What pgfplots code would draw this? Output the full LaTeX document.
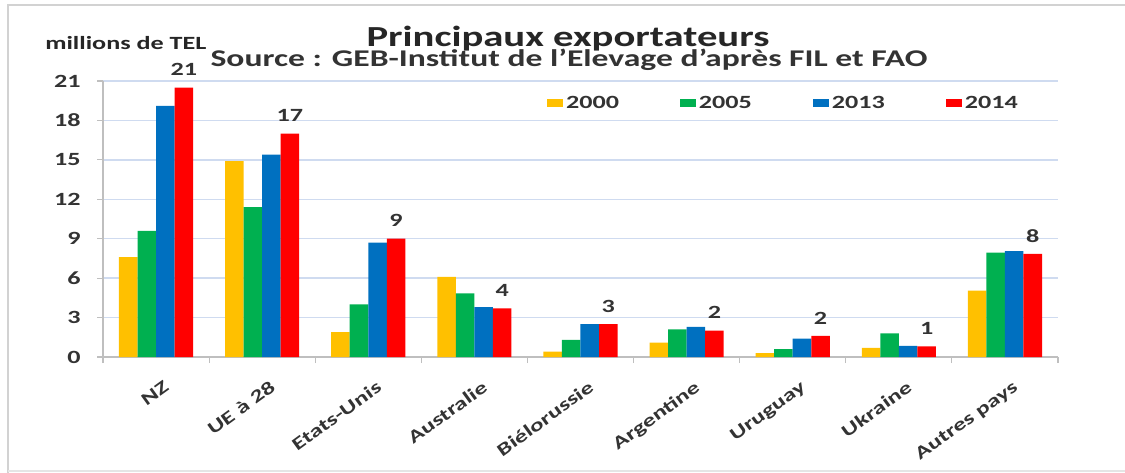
\documentclass[border=0pt]{standalone}
\usepackage{fontspec}
\setmainfont{Carlito}[FakeStretch=1.4]
\usepackage{pgfplots}
\usepackage{pgfplotstable}
\pgfplotsset{compat=1.18}
\definecolor{cY}{HTML}{FFC000}
\definecolor{cG}{HTML}{00B050}
\definecolor{cB}{HTML}{0070C0}
\definecolor{cR}{HTML}{FF0000}
\definecolor{gridc}{HTML}{CFDBF0}
\definecolor{axc}{HTML}{BFBFBF}
\definecolor{txt}{HTML}{333333}
\pgfplotstableread{
x y2000 y2005 y2013 y2014 lab
0 7.6 9.6 19.1 20.5 21
1 14.9 11.4 15.4 17.0 17
2 1.9 4.0 8.7 9.0 9
3 6.1 4.85 3.8 3.7 4
4 0.4 1.3 2.5 2.5 3
5 1.1 2.1 2.3 2.0 2
6 0.3 0.6 1.4 1.6 2
7 0.7 1.8 0.85 0.8 1
8 5.05 7.95 8.05 7.85 8
}\datatable
\begin{document}
\begin{tikzpicture}
\begin{scope}[x=0.75pt,y=0.75pt]
\path[use as bounding box] (0,0) rectangle (1125,472);
\draw[axc!70,line width=1.5pt] (8,-5) -- (8,467) -- (1135,467);
\draw[axc!40,line width=0.8pt] (8,1) -- (1135,1);
\node[anchor=base, font=\fontsize{21.8}{25}\selectfont\bfseries, text=black!85] at (568,425) {Principaux exportateurs};
\node[anchor=base, font=\fontsize{18}{21}\selectfont\bfseries, text=black!80] at (569,405) {Source : GEB-Institut de l'Elevage d'après FIL et FAO};
\node[anchor=base west, inner sep=0pt, font=\fontsize{14}{16}\selectfont\bfseries, text=black!85] at (45,422) {millions de TEL};
\end{scope}
\begin{axis}[
  at={(77.25pt,86.25pt)}, anchor=south west,
  scale only axis, width=716.25pt, height=207pt,
  ybar=0pt, bar width=13.9pt,
  xmin=-0.5, xmax=8.5, ymin=0, ymax=21,
  xtick={0,...,8},
  xticklabels={NZ,UE à 28,Etats-Unis,Australie,Biélorussie,Argentine,Uruguay,Ukraine,Autres pays},
  minor xtick={-0.5,0.5,...,8.5},
  ytick={0,3,...,21},
  axis lines*=left,
  axis line style={axc, line width=1pt},
  major x tick style={draw=none},
  minor x tick style={axc, line width=0.8pt},
  minor tick length=4.5pt,
  y tick style={axc, line width=0.8pt},
  major tick length=4.5pt,
  tick align=outside,
  ymajorgrids, grid style={gridc, line width=1pt},
  /pgf/number format/assume math mode=true,
  ticklabel style={font=\fontsize{14}{16}\selectfont\bfseries, text=txt},
  yticklabel style={inner sep=0pt, xshift=-12pt},
  xticklabel style={font=\fontsize{13.5}{15}\selectfont\bfseries, rotate=36, anchor=north east, inner sep=0pt, yshift=-13pt, xshift=-3pt},
  legend columns=4,
  legend style={at={(0.465,0.92)}, anchor=west, draw=none, fill=none, inner sep=0pt,
    font=\fontsize{14}{16}\selectfont\bfseries, text=txt,
    /tikz/every even column/.append style={column sep=44pt}},
  legend image code/.code={\fill[#1] (0pt,-3pt) rectangle (12pt,3pt);},
  nodes near coords style={font=\fontsize{14}{16}\selectfont\bfseries, text=txt, anchor=center, yshift=13.5pt},
]
\addplot[fill=cY, draw=none] table[x=x, y=y2000] {\datatable};
\addplot[fill=cG, draw=none] table[x=x, y=y2005] {\datatable};
\addplot[fill=cB, draw=none] table[x=x, y=y2013] {\datatable};
\addplot[fill=cR, draw=none, nodes near coords, point meta=explicit symbolic] table[x=x, y=y2014, meta=lab] {\datatable};
\legend{2000,2005,2013,2014}
\end{axis}
\end{tikzpicture}
\end{document}
